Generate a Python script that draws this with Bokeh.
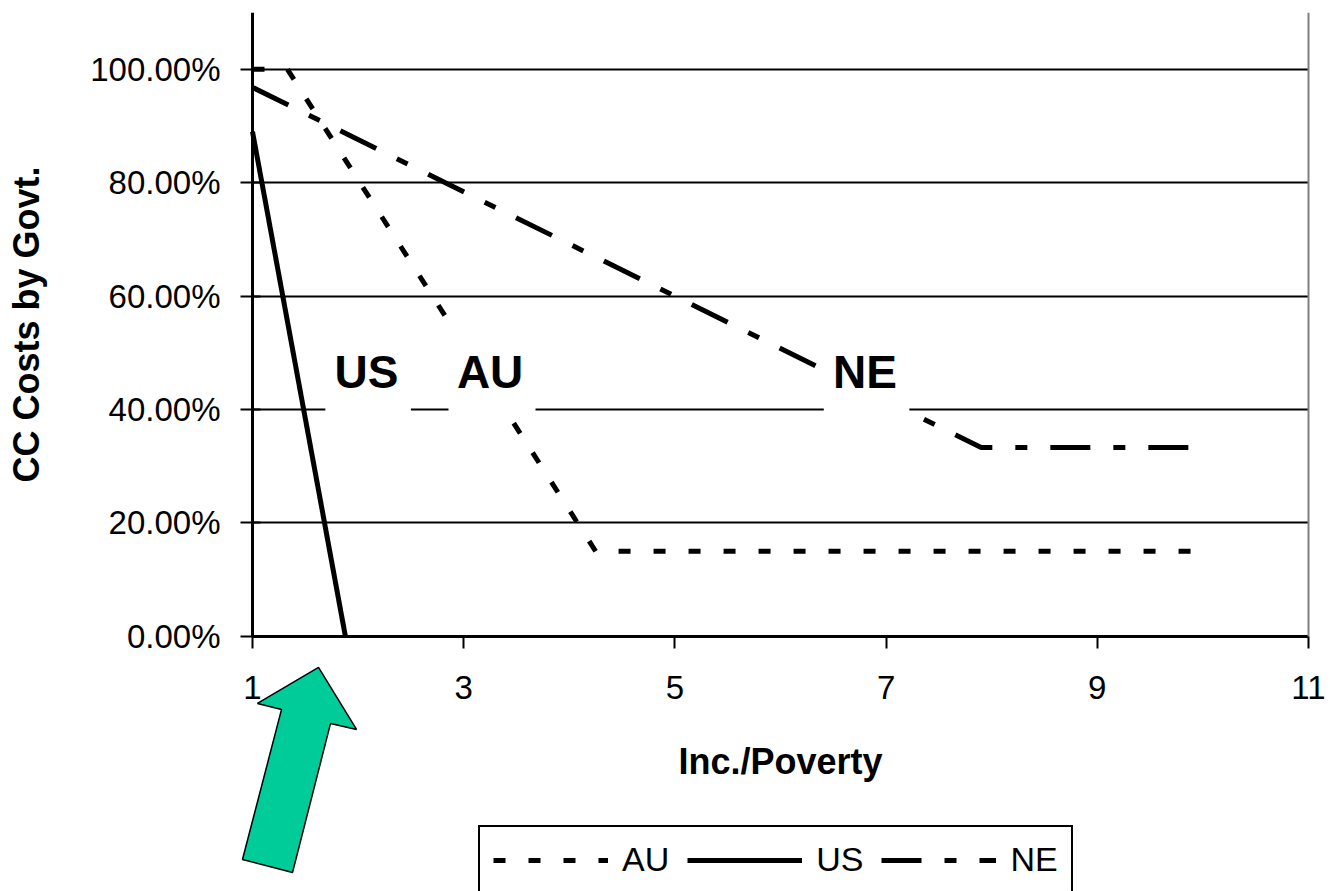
from bokeh.plotting import figure
from bokeh.models import (Range1d, FixedTicker, NumeralTickFormatter, Legend, LegendItem,
                          PolyAnnotation, LinearAxis)
from bokeh.core.properties import value
from bokeh.embed import file_html
from bokeh.resources import INLINE

# ---- data ----
au_x = [1.0, 1.33, 4.25, 10.0]
au_y = [1.0, 1.0, 0.15, 0.15]
us_x = [1.0, 1.88]
us_y = [0.89, 0.0]
ne_x = [1.0, 7.9, 10.0]
ne_y = [0.968, 0.333, 0.333]

x_ticks = [1, 3, 5, 7, 9, 11]
y_ticks = [0.0, 0.2, 0.4, 0.6, 0.8, 1.0]
series_names = ["AU", "US", "NE"]

callout_text = ["US", "AU", "NE"]
callout_x = [2.08, 3.25, 6.80]
callout_y = [0.466, 0.466, 0.466]
callout_left = [1.69, 2.856, 6.41]
callout_right = [2.50, 3.68, 7.22]
callout_bottom = [0.395, 0.395, 0.395]
callout_top = [0.540, 0.540, 0.540]

arrow_x = [1.625, 1.047, 1.275, 0.905, 1.379, 1.739, 1.985]
arrow_y = [-0.0547, -0.1182, -0.1287, -0.3933, -0.4162, -0.1534, -0.1640]

FONT = "Liberation Sans"
X_MIN, X_MAX = 1, 11
Y_MIN, Y_MAX = 0, 1.1

# frame covers the whole canvas; axes are pinned at x=1 / y=0 inside it
p = figure(width=1330, height=891, output_backend="svg", toolbar_location=None,
           x_range=Range1d(-1.38636, 11.20833), y_range=Range1d(-0.4497, 1.1),
           min_border_left=0, min_border_right=0, min_border_top=12,
           min_border_bottom=0)
p.outline_line_color = None
p.background_fill_color = "white"
p.border_fill_color = "white"

p.xaxis.fixed_location = 0
p.yaxis.fixed_location = 1
p.xaxis.bounds = (X_MIN, X_MAX)
p.yaxis.bounds = (Y_MIN, Y_MAX)
p.xaxis.ticker = FixedTicker(ticks=x_ticks)
p.yaxis.ticker = FixedTicker(ticks=y_ticks)
p.yaxis.formatter = NumeralTickFormatter(format="0.00%")
p.xaxis.axis_label = "Inc./Poverty"
p.yaxis.axis_label = "CC Costs by Govt."
for ax in (p.xaxis[0], p.yaxis[0]):
    ax.axis_line_color = "black"
    ax.axis_line_width = 3
    ax.major_tick_line_color = "black"
    ax.major_tick_line_width = 2
    ax.minor_tick_line_color = None
    ax.major_label_text_font = FONT
    ax.major_label_text_color = "black"
    ax.major_label_text_font_size = "33px"
    ax.axis_label_text_font = FONT
    ax.axis_label_text_font_style = "bold"
    ax.axis_label_text_color = "black"
    ax.axis_label_text_font_size = "36px"
p.xaxis.major_tick_out = 12
p.xaxis.major_tick_in = 0
p.yaxis.major_tick_out = 12
p.yaxis.major_tick_in = 8
p.xaxis.major_label_standoff = 28
p.yaxis.major_label_standoff = 20
p.xaxis.axis_label_standoff = 38
p.yaxis.axis_label_standoff = 40

# thin grey right border of the plot area
right_axis = LinearAxis(fixed_location=X_MAX, ticker=FixedTicker(ticks=[]),
                        bounds=(Y_MIN, Y_MAX),
                        axis_line_color="#808080", axis_line_width=2,
                        major_tick_line_color=None, minor_tick_line_color=None,
                        major_label_text_font_size="0px")
p.add_layout(right_axis, "right")

p.xgrid.grid_line_color = None
p.ygrid.ticker = FixedTicker(ticks=y_ticks)
try:
    p.ygrid.cross_bounds = (X_MIN, X_MAX)
    p.ygrid.grid_line_color = "black"
    p.ygrid.grid_line_width = 2
except AttributeError:
    p.ygrid.grid_line_color = None
    p.multi_line([[X_MIN, X_MAX] for t in y_ticks], [[t, t] for t in y_ticks],
                 line_color="black", line_width=2)

# series
r_au = p.line(au_x, au_y, line_color="black", line_width=5, line_dash="12 23")
r_us = p.line(us_x, us_y, line_color="black", line_width=5)
r_ne = p.line(ne_x, ne_y, line_color="black", line_width=5, line_dash="40 23 12 23")

# callout labels with white boxes
p.quad(left=callout_left, right=callout_right, bottom=callout_bottom, top=callout_top,
       fill_color="white", line_color=None)
p.text(x=callout_x, y=callout_y, text=callout_text, text_align="center",
       text_baseline="middle", text_font=value(FONT), text_font_style="bold",
       text_font_size="46px", text_color="black")

# green arrow
p.add_layout(PolyAnnotation(xs=arrow_x, ys=arrow_y, fill_color="#00CC99", fill_alpha=1.0,
                            line_color="black", line_width=1.5, line_alpha=1.0))

legend = Legend(items=[LegendItem(label=series_names[0], renderers=[r_au]),
                       LegendItem(label=series_names[1], renderers=[r_us]),
                       LegendItem(label=series_names[2], renderers=[r_ne])],
                orientation="horizontal", location=(478, -3),
                glyph_width=115, glyph_height=36, label_standoff=14, spacing=18,
                padding=13, label_text_font=FONT, label_text_font_size="34px",
                label_text_color="black", border_line_color="black",
                border_line_alpha=1.0, border_line_width=2,
                background_fill_color="white", background_fill_alpha=1.0, margin=0)
p.add_layout(legend, "center")

open("out.html", "w").write(file_html(p, INLINE))
